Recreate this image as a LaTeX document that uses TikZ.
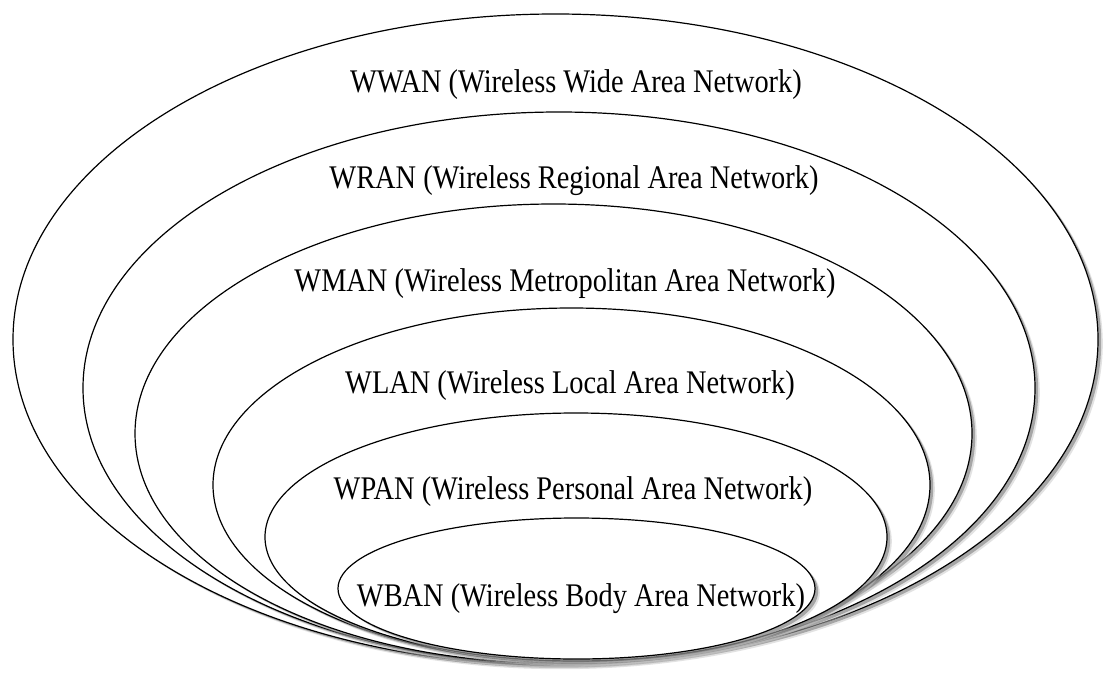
\documentclass[tikz,border=0pt]{standalone}
\usepackage{fontspec}
\usepackage{graphicx}
\setmainfont{Liberation Serif}
\usetikzlibrary{shapes.geometric,shadows}
\begin{document}
\begin{tikzpicture}[x=1pt,y=-1pt,
  zone/.style={ellipse, draw=black, line width=1.2pt, fill=white, inner sep=0pt,
    drop shadow={shadow xshift=4.8pt, shadow yshift=-4.2pt, fill=black!22},
    drop shadow={shadow xshift=3.2pt, shadow yshift=-2.7pt, fill=black!58}},
  lbl/.style={anchor=base, inner sep=0pt, font=\fontsize{33}{33}\selectfont}]
  % canvas
  \path[use as bounding box, fill=white] (0,0) rectangle (1107,677);
  % nested coverage zones, outermost first
  \node[zone, minimum width=1085pt, minimum height=651pt] (wwan) at (555.5,339.5) {};
  \node[zone, minimum width=952pt,  minimum height=552pt] (wran) at (559,388) {};
  \node[zone, minimum width=837pt,  minimum height=459pt] (wman) at (553.5,433.5) {};
  \node[zone, minimum width=717pt,  minimum height=354pt] (wlan) at (571.5,485) {};
  \node[zone, minimum width=622pt,  minimum height=248pt] (wpan) at (576,537) {};
  \node[zone, minimum width=477pt,  minimum height=141pt] (wban) at (576.5,588.5) {};
  % labels
  \newcommand{\cond}[1]{\scalebox{0.86}[1]{#1}}
  \node[lbl] (twwan) at (576,92)  {\cond{WWAN (Wireless Wide Area Network)}};
  \node[lbl] (twran) at (574,188) {\cond{WRAN (Wireless Regional Area Network)}};
  \node[lbl] (twman) at (565,291) {\cond{WMAN (Wireless Metropolitan Area Network)}};
  \node[lbl] (twlan) at (570,393) {\cond{WLAN (Wireless Local Area Network)}};
  \node[lbl] (twpan) at (573,499) {\cond{WPAN (Wireless Personal Area Network)}};
  \node[lbl] (twban) at (581,606) {\cond{WBAN (Wireless Body Area Network)}};
\end{tikzpicture}
\end{document}
